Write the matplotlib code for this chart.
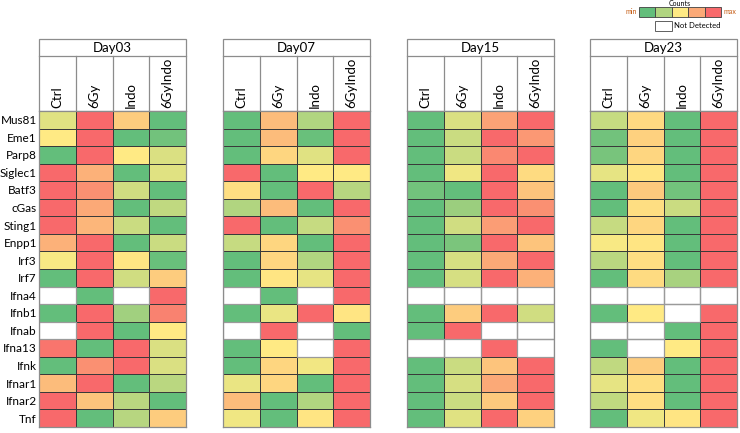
import numpy as np
import matplotlib.pyplot as plt
from matplotlib.colors import LinearSegmentedColormap
from matplotlib.patches import Rectangle

genes = ["Mus81", "Eme1", "Parp8", "Siglec1", "Batf3", "cGas", "Sting1", "Enpp1",
         "Irf3", "Irf7", "Ifna4", "Ifnb1", "Ifnab", "Ifna13", "Ifnk", "Ifnar1",
         "Ifnar2", "Tnf"]
groups = ["Ctrl", "6Gy", "Indo", "6GyIndo"]
days = ["Day03", "Day07", "Day15", "Day23"]
nan = np.nan

# 0 = min (green), 1 = max (red), nan = not detected
day03 = [[0.40, 1.00, 0.62, 0.00],
         [0.50, 1.00, 0.00, 0.05],
         [0.00, 1.00, 0.50, 0.38],
         [1.00, 0.72, 0.00, 0.40],
         [1.00, 0.85, 0.35, 0.00],
         [1.00, 0.75, 0.00, 0.30],
         [1.00, 0.70, 0.33, 0.00],
         [0.72, 1.00, 0.00, 0.33],
         [0.48, 1.00, 0.52, 0.02],
         [0.00, 1.00, 0.35, 0.62],
         [nan, 0.00, nan, 1.00],
         [0.00, 1.00, 0.20, 0.90],
         [nan, 1.00, 0.00, 0.50],
         [0.95, 0.00, 1.00, 0.38],
         [0.00, 0.85, 1.00, 0.38],
         [0.68, 1.00, 0.00, 0.28],
         [1.00, 0.65, 0.28, 0.00],
         [1.00, 0.00, 0.27, 0.62]]
day07 = [[0.00, 0.68, 0.25, 1.00],
         [0.00, 0.68, 0.02, 1.00],
         [0.00, 0.58, 0.40, 1.00],
         [1.00, 0.00, 0.50, 0.50],
         [0.55, 0.00, 1.00, 0.27],
         [0.25, 0.68, 0.00, 1.00],
         [1.00, 0.00, 0.32, 0.85],
         [0.32, 0.58, 0.00, 1.00],
         [0.00, 0.58, 0.25, 1.00],
         [0.00, 0.52, 0.42, 1.00],
         [nan, 0.00, nan, 1.00],
         [0.00, 0.43, 1.00, 0.52],
         [nan, 1.00, nan, 0.00],
         [0.00, 0.50, nan, 1.00],
         [0.00, 0.58, 0.46, 1.00],
         [0.43, 0.58, 0.00, 1.00],
         [0.68, 0.00, 0.25, 1.00],
         [0.45, 0.00, 0.52, 1.00]]
day15 = [[0.00, 0.38, 0.78, 1.00],
         [0.00, 0.33, 1.00, 0.82],
         [0.00, 0.33, 0.88, 1.00],
         [0.00, 0.45, 1.00, 0.56],
         [0.05, 0.00, 1.00, 0.65],
         [0.00, 0.18, 1.00, 0.85],
         [0.00, 0.35, 0.80, 1.00],
         [0.00, 0.08, 1.00, 0.65],
         [0.00, 0.37, 0.75, 1.00],
         [0.00, 0.37, 1.00, 0.72],
         [nan, nan, nan, nan],
         [0.00, 0.62, 1.00, 0.35],
         [0.00, 1.00, nan, nan],
         [nan, nan, 1.00, nan],
         [0.00, 0.33, 0.65, 1.00],
         [0.00, 0.37, 0.75, 1.00],
         [0.00, 0.33, 0.63, 1.00],
         [0.00, 0.40, 1.00, 0.60]]
day23 = [[0.32, 0.57, 0.00, 1.00],
         [0.05, 0.60, 0.00, 1.00],
         [0.07, 0.58, 0.00, 1.00],
         [0.42, 0.52, 0.00, 1.00],
         [0.00, 0.63, 0.05, 1.00],
         [0.00, 0.55, 0.33, 1.00],
         [0.32, 0.58, 0.00, 1.00],
         [0.48, 0.52, 0.00, 1.00],
         [0.28, 0.55, 0.00, 1.00],
         [0.00, 0.56, 0.22, 1.00],
         [nan, nan, nan, nan],
         [0.00, 0.50, nan, 1.00],
         [nan, nan, 0.00, 1.00],
         [0.00, nan, 0.50, 1.00],
         [0.30, 0.62, 0.00, 1.00],
         [0.42, 0.55, 0.00, 1.00],
         [0.30, 0.55, 0.00, 1.00],
         [0.00, 0.45, 0.52, 1.00]]
tables = [day03, day07, day15, day23]

cmap = LinearSegmentedColormap.from_list("excel", ["#63BE7B", "#FFEB84", "#F8696B"])
cmap.set_bad("white")

plt.rcParams['font.family'] = ['Lato', 'DejaVu Sans']

W, H = 740, 433
fig = plt.figure(figsize=(7.4, 4.33), dpi=100)

def fax(x0, y0, x1, y1):
    # axes from pixel box (top-left origin)
    return fig.add_axes([x0 / W, 1 - y1 / H, (x1 - x0) / W, (y1 - y0) / H])

panel_x = [(39, 186), (223, 370), (407, 554), (590, 737)]
top, head_bot, data_top, data_bot = 39, 56, 111, 427

for k, (x0, x1) in enumerate(panel_x):
    # header
    hx = fax(x0, top, x1, data_top)
    hx.set_xlim(0, 4)
    hx.set_ylim(0, data_top - top)
    hx.axis("off")
    hcol = "#8c8c8c"
    hx.add_patch(Rectangle((0, 0), 4, data_top - top, fill=False, ec=hcol, lw=0.9, clip_on=False))
    hx.plot([0, 4], [data_top - head_bot] * 2, color=hcol, lw=0.9, clip_on=False)
    for c in range(1, 4):
        hx.plot([c, c], [0, data_top - head_bot], color=hcol, lw=0.9, clip_on=False)
    hx.text(2, (data_top - top) - (head_bot - top) / 2, days[k], ha="center", va="center",
            fontsize=9.5)
    for c, g in enumerate(groups):
        hx.text(c + 0.5, 3, g, rotation=90, ha="center", va="bottom", fontsize=9.5)

    # data cells
    ax = fax(x0, data_top, x1, data_bot)
    vals = np.ma.masked_invalid(np.array(tables[k]))
    ax.pcolormesh(vals, cmap=cmap, vmin=0, vmax=1, edgecolors="#3a3a3a", linewidth=0.6)
    ax.set_xlim(0, 4)
    ax.set_ylim(len(genes), 0)
    ax.set_xticks([])
    ax.set_yticks([])
    for s in ax.spines.values():
        s.set_color("#8c8c8c")
        s.set_linewidth(0.9)
    # grey borders for not-detected cells
    arr = np.array(tables[k])
    for r in range(arr.shape[0]):
        for c in range(arr.shape[1]):
            if np.isnan(arr[r, c]):
                ax.add_patch(Rectangle((c, r), 1, 1, fill=False, ec="#9a9a9a", lw=0.9))
    if k == 0:
        ax.set_yticks(np.arange(len(genes)) + 0.5)
        ax.set_yticklabels(genes, fontsize=8.5)
        ax.tick_params(axis="y", length=0, pad=1.5)

# legend
lg = fax(600, 0, 740, 35)
lg.set_xlim(600, 740)
lg.set_ylim(35, 0)
lg.axis("off")
for i, v in enumerate([0, 0.25, 0.5, 0.75, 1.0]):
    lg.add_patch(Rectangle((639 + i * 16.4, 7), 16.4, 10, fc=cmap(v), ec="#404040", lw=0.6))
lg.text(680, 3.5, "Counts", ha="center", va="center", fontsize=5)
lg.text(637, 12, "min", ha="right", va="center", fontsize=5, color="#c55a11")
lg.text(723, 12, "max", ha="left", va="center", fontsize=5, color="#c55a11")
lg.add_patch(Rectangle((655, 21), 17, 10, fc="white", ec="#606060", lw=0.7))
lg.text(674, 26, "Not Detected", ha="left", va="center", fontsize=5.5)

fig.savefig("out.png", dpi=100)
